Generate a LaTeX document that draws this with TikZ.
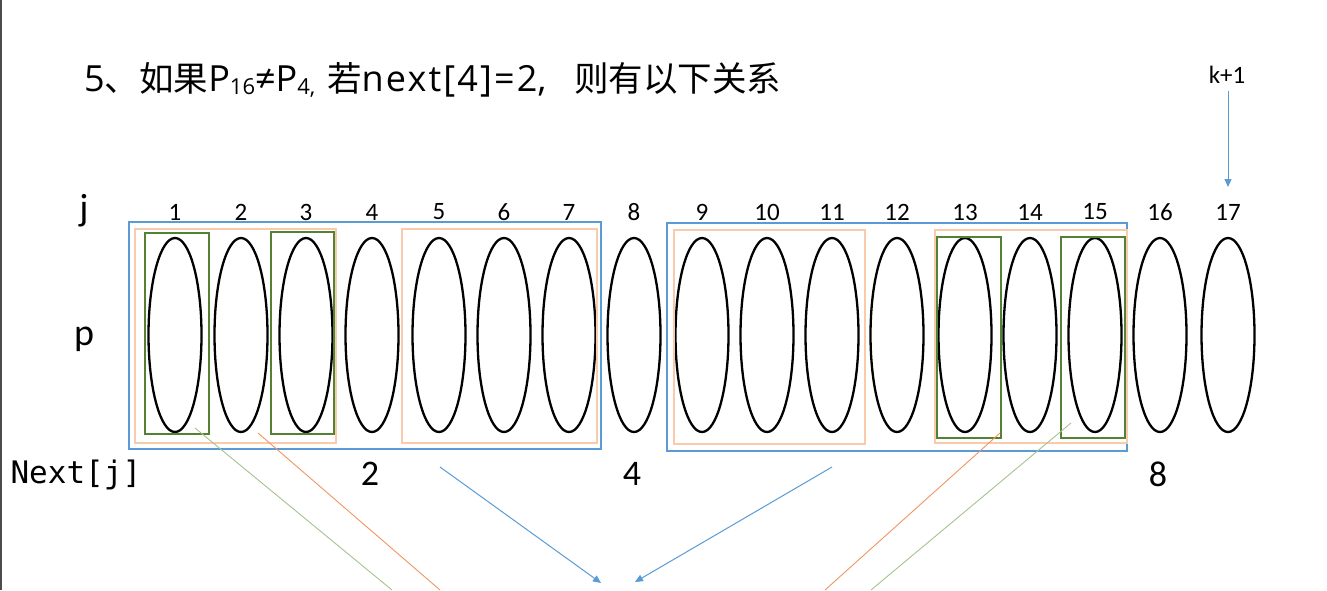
\documentclass[tikz,border=0pt]{standalone}
\usepackage{fontspec}
\setmainfont{Carlito}
\newfontfamily\cjk{Noto Sans CJK SC}
\newfontfamily\lat{Open Sans}
\newfontfamily\latsp[LetterSpace=6]{Open Sans}
\newfontfamily\mono{DejaVu Sans Mono}
\usetikzlibrary{arrows.meta,shapes.geometric}
\definecolor{bblue}{RGB}{91,155,213}
\definecolor{lorange}{RGB}{248,203,173}
\definecolor{dgreen}{RGB}{84,130,53}
\definecolor{lineorange}{RGB}{240,150,100}
\definecolor{linegreen}{RGB}{165,195,145}
\newcommand{\cj}[1]{{\cjk\fontsize{34.5}{34.5}\selectfont #1}}
\newcommand{\lt}[1]{{\lat\fontsize{36}{36}\selectfont #1}}
\newcommand{\ltsp}[1]{{\latsp\fontsize{36}{36}\selectfont #1}}
\newcommand{\sbs}[1]{\raisebox{-0.3em}{\lat\fontsize{22}{22}\selectfont #1}}
\tikzset{
  oval/.style={ellipse, draw=black, line width=2.3pt, minimum width=53pt, minimum height=194pt, inner sep=0pt},
  bluebox/.style={draw=bblue, line width=2.2pt},
  orangebox/.style={draw=lorange, line width=2.5pt},
  greenbox/.style={draw=dgreen, line width=2.4pt},
  idx/.style={font=\fontsize{25}{25}\selectfont},
  rowlab/.style={font=\fontsize{38}{38}\selectfont, anchor=base, inner sep=0pt},
  nextlab/.style={font=\mono\fontsize{31}{31}\selectfont},
  nextval/.style={font=\fontsize{36}{36}\selectfont},
  thin/.style={line width=0.9pt},
  titlepart/.style={anchor=base west, inner sep=0pt},
  blueArrow/.style={draw=bblue, line width=1pt, -{Triangle[length=8pt,width=7pt]}}
}
\begin{document}
\begin{tikzpicture}[x=1pt,y=-1pt]
\useasboundingbox (0,0) rectangle (1327,590);
\fill[white] (0,0) rectangle (1327,590);
\draw[black!70, line width=1.5pt] (0.75,0) -- (0.75,590);

% title
\node[titlepart] (t1) at (84,91) {\lt{5}\cj{、如果}\lt{P}\sbs{16}\lt{≠P}\sbs{4,}};
\node[titlepart] (t2) at (327,91) {\cj{若}\ltsp{next[4]=2}\lt{,}};
\node[titlepart] (t3) at (574,91) {\cj{则有以下关系}};

% k+1
\node[font=\fontsize{25}{25}\selectfont] (k1) at (1227,75) {k+1};
\coordinate (kA) at (1228,91);
\coordinate (kB) at (1228,187);
\draw[blueArrow] (kA) -- (kB);

% row labels
\node[rowlab] (jl) at (84,220) {j};
\node[rowlab] (pl) at (84,345) {p};
\node[nextlab, anchor=west] (nl) at (7,475) {Next[j]};

% ellipses and indices
\foreach \i/\x in {1/175,2/241,3/306,4/372,5/439,6/504,7/569,8/634,9/702,10/767,11/832,12/897,13/965,14/1030,15/1095,16/1160,17/1228}{
  \node[oval] (e\i) at (\x,335) {};
  \node[idx] (n\i) at (\x,212) {\i};
}

% boxes
\draw[bluebox] (129,222) rectangle (601,449);
\draw[bluebox] (667,223) rectangle (1127,451);
\draw[orangebox] (135,229) rectangle (336,443);
\draw[orangebox] (402,229) rectangle (597,443);
\draw[orangebox] (674,230) rectangle (865,444);
\draw[orangebox] (935,230) rectangle (1127,443);
\draw[greenbox] (145,233) rectangle (209,434);
\draw[greenbox] (271,232) rectangle (334,434);
\draw[greenbox] (937,237) rectangle (1001,438);
\draw[greenbox] (1061,237) rectangle (1125,438);

% next values
\node[nextval] (v2) at (370,474) {2};
\node[nextval] (v4) at (632,474) {4};
\node[nextval] (v8) at (1158,474) {8};

% connector lines
\coordinate (g1a) at (195,428);
\coordinate (g1b) at (392,590);
\coordinate (o1a) at (258,433);
\coordinate (o1b) at (440,590);
\coordinate (o2a) at (1000,433);
\coordinate (o2b) at (825,590);
\coordinate (g2a) at (1071,423);
\coordinate (g2b) at (871,590);
\coordinate (b1a) at (440,467);
\coordinate (b1b) at (601,583);
\coordinate (b2a) at (832,467);
\coordinate (b2b) at (635,582);
\draw[linegreen, thin] (g1a) -- (g1b);
\draw[lineorange, thin] (o1a) -- (o1b);
\draw[lineorange, thin] (o2a) -- (o2b);
\draw[linegreen, thin] (g2a) -- (g2b);
\draw[blueArrow] (b1a) -- (b1b);
\draw[blueArrow] (b2a) -- (b2b);
\end{tikzpicture}
\end{document}
